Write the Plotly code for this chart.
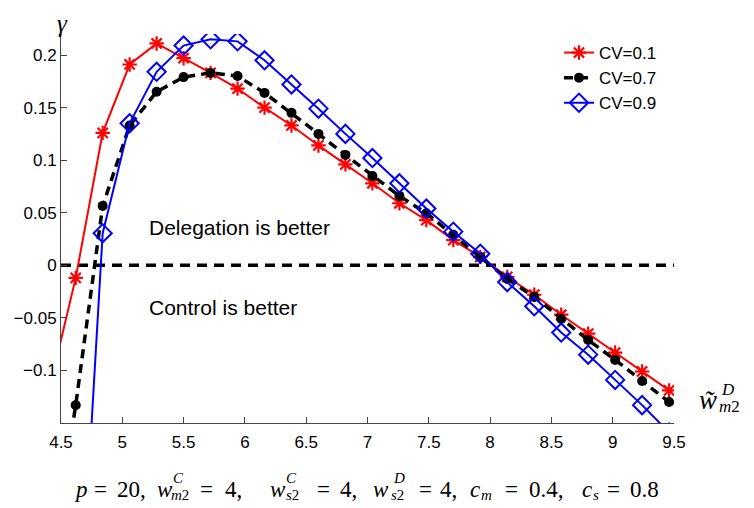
import plotly.graph_objects as go

# ---- data ----
w_m2 = [4.40, 4.62, 4.84, 5.06, 5.28, 5.50, 5.72, 5.94, 6.16, 6.38, 6.60, 6.82,
        7.04, 7.26, 7.48, 7.70, 7.92, 8.14, 8.36, 8.58, 8.80, 9.02, 9.24, 9.46]
gamma_cv01 = [-0.120, -0.012, 0.126, 0.191, 0.211, 0.197, 0.183, 0.168, 0.150, 0.133,
              0.114, 0.096, 0.078, 0.059, 0.043, 0.024, 0.008, -0.011, -0.028, -0.047,
              -0.065, -0.083, -0.101, -0.119]
gamma_cv07 = [-0.300, -0.133, 0.0565, 0.133, 0.165, 0.179, 0.183, 0.180, 0.164, 0.145,
              0.125, 0.105, 0.085, 0.066, 0.0495, 0.029, 0.008, -0.013, -0.030, -0.051,
              -0.071, -0.090, -0.110, -0.130]
gamma_cv09 = [-0.850, -0.410, 0.0305, 0.135, 0.184, 0.209, 0.215, 0.213, 0.195, 0.172,
              0.149, 0.125, 0.102, 0.078, 0.054, 0.032, 0.011, -0.016, -0.039, -0.064,
              -0.085, -0.109, -0.133, -0.159]
series_names = ["CV=0.1", "CV=0.7", "CV=0.9"]
x_ticks = [4.5, 5, 5.5, 6, 6.5, 7, 7.5, 8, 8.5, 9, 9.5]
x_tick_text = ["4.5", "5", "5.5", "6", "6.5", "7", "7.5", "8", "8.5", "9", "9.5"]
y_ticks = [-0.1, -0.05, 0, 0.05, 0.1, 0.15, 0.2]
y_tick_text = ["\u22120.1", "\u22120.05", "0", "0.05", "0.1", "0.15", "0.2"]

# page body has an 8px default margin, so the figure is drawn 8px smaller
OFF = 8
W, H = 754 - OFF, 508 - OFF
# plot area on screen: x 61..674, y 34..423
L, T = 61 - OFF, 34 - OFF
PW, PH = 613, 389
R, B = W - L - PW, H - T - PH


def px(x):
    return (x - 61) / PW


def py(y):
    return (423 - y) / PH


fig = go.Figure()

fig.add_trace(go.Scatter(
    x=w_m2, y=gamma_cv01, name=series_names[0], mode="lines+markers",
    line=dict(color="#ff0000", width=2),
    marker=dict(symbol="asterisk-open", size=12, color="#ff0000",
                line=dict(color="#ff0000", width=2.2))))
fig.add_trace(go.Scatter(
    x=w_m2, y=gamma_cv07, name=series_names[1], mode="lines+markers",
    line=dict(color="#000000", width=3.5, dash="9px,6px"),
    marker=dict(symbol="circle", size=10, color="#000000")))
fig.add_trace(go.Scatter(
    x=w_m2, y=gamma_cv09, name=series_names[2], mode="lines+markers",
    line=dict(color="#0000ff", width=2),
    marker=dict(symbol="diamond-open", size=14, color="#0000ff",
                line=dict(color="#0000ff", width=2))))

# zero reference line
fig.add_shape(type="line", xref="x", yref="y", x0=4.5, x1=9.5, y0=0, y1=0,
              line=dict(color="black", width=3.5, dash="10px,7px"), layer="below")

annotations = [
    dict(text="Delegation is better", x=px(147), y=py(227), xanchor="left", yanchor="middle",
         font=dict(family="Liberation Sans", size=21, color="black")),
    dict(text="Control is better", x=px(147), y=py(307), xanchor="left", yanchor="middle",
         font=dict(family="Liberation Sans", size=21, color="black")),
    dict(text="<i>\u03b3</i>", x=px(62), y=py(8), xanchor="center", yanchor="top",
         font=dict(family="Liberation Serif", size=25, color="black")),
    # x-axis label  w~^D_{m2}
    dict(text="<i>w\u0303</i>", x=px(697), y=py(400), xanchor="left", yanchor="middle",
         font=dict(family="Liberation Serif", size=27, color="black")),
    dict(text="<i>D</i>", x=px(719), y=py(389), xanchor="left", yanchor="middle",
         font=dict(family="Liberation Serif", size=17, color="black")),
    dict(text="<i>m</i>2", x=px(717), y=py(406), xanchor="left", yanchor="middle",
         font=dict(family="Liberation Serif", size=17, color="black")),
]

# caption pieces: (text, left px on screen, centre y px on screen, size)
cy, sy, by = 489, 478, 495
caption = [
    ("<i>p</i>", 72, cy, 23), ("=", 92, cy, 23), ("20,", 115, cy, 23),
    ("<i>w</i>", 155, cy, 23), ("<i>C</i>", 171, sy, 15), ("<i>m</i>2", 169, by, 15),
    ("=", 198, cy, 23), ("4,", 223, cy, 23),
    ("<i>w</i>", 268, cy, 23), ("<i>C</i>", 284, sy, 15), ("<i>s</i>2", 284, by, 15),
    ("=", 315, cy, 23), ("4,", 338, cy, 23),
    ("<i>w</i>", 371, cy, 23), ("<i>D</i>", 391, sy, 15), ("<i>s</i>2", 389, by, 15),
    ("=", 417, cy, 23), ("4,", 438, cy, 23),
    ("<i>c</i>", 468, cy, 23), ("<i>m</i>", 479, by, 15),
    ("=", 503, cy, 23), ("0.4,", 527, cy, 23),
    ("<i>c</i>", 580, cy, 23), ("<i>s</i>", 591, by, 15),
    ("=", 605, cy, 23), ("0.8", 628, cy, 23),
]
for txt, xl, yc, sz in caption:
    annotations.append(dict(text=txt, x=px(xl), y=py(yc), xanchor="left", yanchor="middle",
                            font=dict(family="Liberation Serif", size=sz, color="black")))

for a in annotations:
    a.update(xref="paper", yref="paper", showarrow=False)

axis_common = dict(showline=True, linecolor="#444444", linewidth=1, ticks="inside",
                   ticklen=6, tickcolor="#444444", showgrid=False, zeroline=False,
                   tickfont=dict(family="Liberation Sans", size=17, color="black"),
                   mirror=False)

fig.update_layout(
    width=W, height=H,
    margin=dict(l=L, r=R, t=T, b=B, autoexpand=False),
    paper_bgcolor="white", plot_bgcolor="white",
    xaxis=dict(range=[4.5, 9.5], tickvals=x_ticks, ticktext=x_tick_text,
               ticklabelstandoff=4, **axis_common),
    yaxis=dict(range=[-0.15, 0.22], tickvals=y_ticks, ticktext=y_tick_text, **axis_common),
    showlegend=True,
    legend=dict(x=px(559), y=py(35), xanchor="left", yanchor="top",
                bgcolor="rgba(0,0,0,0)", borderwidth=0,
                font=dict(family="Liberation Sans", size=17, color="black"),
                tracegroupgap=0),
    annotations=annotations,
)

fig.write_html("out.html")
